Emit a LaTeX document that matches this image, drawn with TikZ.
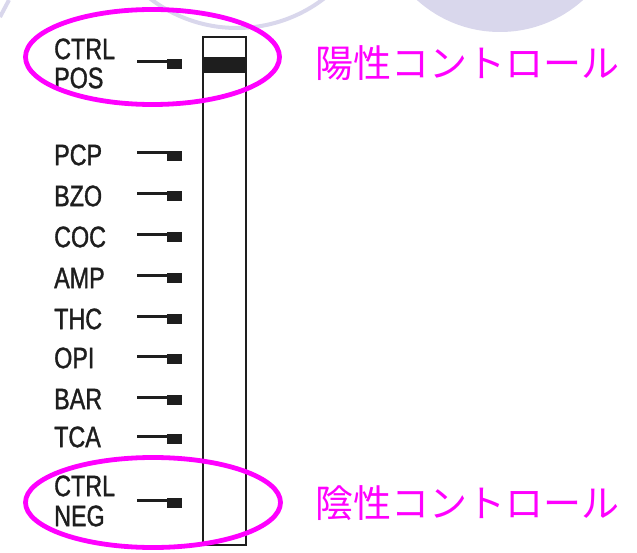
\documentclass[tikz,border=0pt]{standalone}
\usepackage{fontspec}
\newfontfamily\condfont[FakeStretch=0.79,FakeBold=1.2]{Liberation Sans}
\newfontfamily\cjkfont{Noto Sans CJK JP}
\definecolor{lav}{RGB}{217,215,236}
\definecolor{mag}{RGB}{255,0,255}
\definecolor{ink}{RGB}{30,30,30}
\begin{document}
\begin{tikzpicture}[x=1pt,y=-1pt,
  lbl/.style={anchor=west,inner sep=0pt,font=\condfont\fontsize{29.5}{29.5}\selectfont,text=ink},
  jlbl/.style={inner sep=0pt,font=\cjkfont\fontsize{38}{38}\selectfont,text=mag},
  tickline/.style={draw=ink,line width=3pt},
  strip/.style={draw=ink,line width=1.8pt}]
\useasboundingbox (0,0) rectangle (637,553);
% background decorations
\begin{scope}
\clip (0,0) rectangle (637,553);
\fill[lav] (500,-92) circle (124);
\draw[lav,line width=4pt] (237,-115) circle (143);
\draw[lav,line width=4pt] (0,17) .. controls (4,9) .. (9,0);
\end{scope}
% strip
\node[strip,minimum width=43pt,minimum height=508pt,inner sep=0pt] (strip) at (224.5,291) {};
\fill[ink] (203,57) rectangle (246,73);
% labels
\node[lbl] (ctrlp) at (54,49) {CTRL};
\node[lbl] (pos) at (54,78) {POS};
\foreach \n/\t/\y in {PCP/PCP/155,BZO/BZO/196,COC/COC/237,AMP/AMP/278,THC/THC/319,OPI/OPI/358,BAR/BAR/399,TCA/TCA/437}{
  \node[lbl] (\n) at (54,\y) {\t};
}
\node[lbl] (ctrln) at (54,486) {CTRL};
\node[lbl] (neg) at (54,516) {NEG};
% ticks
\foreach \y in {61.5,153,193.5,234.5,275.5,316,356,397,436,500}{
  \draw[tickline] (137,\y) -- (168,\y);
  \fill[ink] (167,\y-2) rectangle (182,\y+8);
}
% ellipses
\draw[mag,line width=4.8pt] (152.5,57) ellipse [x radius=127,y radius=47.5];
\draw[mag,line width=4.8pt] (153,502.5) ellipse [x radius=127.5,y radius=45];
% Japanese labels
\node[jlbl] (posj) at (467.5,63) {陽性コントロール};
\node[jlbl] (negj) at (467.5,503) {陰性コントロール};
\end{tikzpicture}
\end{document}
